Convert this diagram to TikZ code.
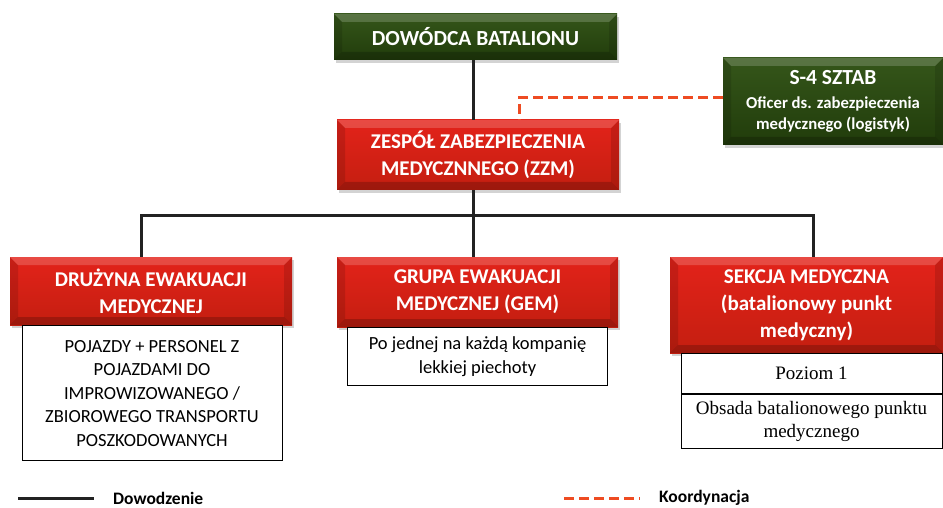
\documentclass[tikz,border=0pt]{standalone}
\usepackage{fontspec}
\setmainfont{Carlito}
\newfontfamily\timesfont{Liberation Serif}
\usepackage{tikz}
\usetikzlibrary{positioning,shadows}
\definecolor{grnTop}{HTML}{35561A}
\definecolor{grnBot}{HTML}{213C0B}
\definecolor{redTop}{HTML}{E3231A}
\definecolor{redBot}{HTML}{C41E10}
\definecolor{lineDark}{HTML}{222222}
\definecolor{orangeLine}{HTML}{EE4B22}

\begin{document}
\begin{tikzpicture}[
                x=1pt, y=-1pt,
                node distance = 0pt and 0pt,
                skos/.style = {path picture={
                    \fill[white, opacity=.18] (path picture bounding box.north west) -- (path picture bounding box.north east)
                        -- ([shift={(-8pt,-8pt)}]path picture bounding box.north east) -- ([shift={(8pt,-8pt)}]path picture bounding box.north west) -- cycle;
                    \fill[black, opacity=.2] (path picture bounding box.south west) -- (path picture bounding box.south east)
                        -- ([shift={(-8pt,8pt)}]path picture bounding box.south east) -- ([shift={(8pt,8pt)}]path picture bounding box.south west) -- cycle;
                    \fill[black, opacity=.12] (path picture bounding box.north west) -- ([shift={(8pt,-8pt)}]path picture bounding box.north west)
                        -- ([shift={(8pt,8pt)}]path picture bounding box.south west) -- (path picture bounding box.south west) -- cycle;
                    \fill[black, opacity=.12] (path picture bounding box.north east) -- ([shift={(-8pt,-8pt)}]path picture bounding box.north east)
                        -- ([shift={(-8pt,8pt)}]path picture bounding box.south east) -- (path picture bounding box.south east) -- cycle;
                    }},
                G/.style = {top color=grnTop, bottom color=grnBot, text=white, align=center, inner sep=0pt,
                    font=\bfseries\fontsize{21.5}{26}\selectfont,
                    drop shadow={shadow xshift=2pt, shadow yshift=-3pt, opacity=.35}, skos},
                R/.style = {G, top color=redTop, bottom color=redBot, font=\bfseries\fontsize{21}{27}\selectfont},
                W/.style = {draw=black, line width=1pt, fill=white, align=center, inner sep=0pt,
                    font=\fontsize{18.5}{23.5}\selectfont},
                T/.style = {W, font=\timesfont\fontsize{19}{23}\selectfont},
                cmd/.style = {draw=lineDark, line width=3pt},
                koord/.style = {draw=orangeLine, line width=3pt, dash pattern=on 10pt off 5pt},
                legtext/.style = {inner sep=0pt, font=\bfseries\fontsize{17.5}{19}\selectfont}
                    ]
                \useasboundingbox (0,0) rectangle (943,508);
                % gora
                \node (dowodca) [G, minimum width=283pt, minimum height=46pt] at (475.5,37) {DOWÓDCA BATALIONU};
                \node (s4) [G, minimum width=220pt, minimum height=87pt, font=\bfseries\fontsize{16.7}{21}\selectfont] at (833,101.5)
                    {{\fontsize{21.5}{24}\selectfont S-4 SZTAB}\\[3pt] Oficer ds. zabezpieczenia\\ medycznego (logistyk)};
                \node (zzm) [R, minimum width=282pt, minimum height=70pt] at (478,155) {ZESPÓŁ ZABEZPIECZENIA\\ MEDYCZNNEGO (ZZM)};
                % dol
                \node (druzyna) [R, minimum width=282pt, minimum height=68pt] at (151,291) {DRUŻYNA EWAKUACJI\\ MEDYCZNEJ};
                \node (gem) [R, minimum width=281pt, minimum height=70pt] at (477.5,292) {GRUPA EWAKUACJI\\ MEDYCZNEJ (GEM)};
                \node (sekcja) [R, minimum width=273pt, minimum height=96pt] at (806.5,305) {SEKCJA MEDYCZNA\\ (batalionowy punkt\\ medyczny)};
                \node (pojazdy) [W, minimum width=260pt, minimum height=135pt, below=0pt of druzyna.south, xshift=1pt]
                    {POJAZDY + PERSONEL Z\\ POJAZDAMI DO\\ IMPROWIZOWANEGO /\\ ZBIOROWEGO TRANSPORTU\\ POSZKODOWANYCH};
                \node (kompania) [W, minimum width=260pt, minimum height=58pt, below=0pt of gem.south]
                    {Po jednej na każdą kompanię\\ lekkiej piechoty};
                \node (poziom) [T, minimum width=261pt, minimum height=40pt, below=0pt of sekcja.south, xshift=5pt] {Poziom 1};
                \node (obsada) [T, minimum width=261pt, minimum height=54pt, below=0pt of poziom.south] {Obsada batalionowego punktu\\ medycznego};
                % linie
                \coordinate (bus) at (473,215);
                \draw[cmd] ([xshift=-2.5pt]dowodca.south) -- ([xshift=-5pt]zzm.north);
                \draw[cmd] ([xshift=-5pt]zzm.south) -- (bus);
                \draw[cmd] ([xshift=-10pt]druzyna.north) |- (bus) -| ([xshift=6.5pt]sekcja.north);
                \draw[cmd] (bus) -- ([xshift=-4.5pt]gem.north);
                \draw[koord] ([yshift=3.5pt]s4.west) -| ([xshift=41pt]zzm.north);
                % legenda
                \coordinate (d1) at (18,498);
                \coordinate (d2) at (94,498);
                \coordinate (k1) at (564,498);
                \coordinate (k2) at (640,498);
                \draw[cmd] (d1) -- (d2);
                \draw[koord] (k1) -- (k2);
                \node (dowodzenie) [legtext, right=19pt of d2] {Dowodzenie};
                \node (koordynacja) [legtext, right=19pt of k2] {Koordynacja};
            \end{tikzpicture}
\end{document}
